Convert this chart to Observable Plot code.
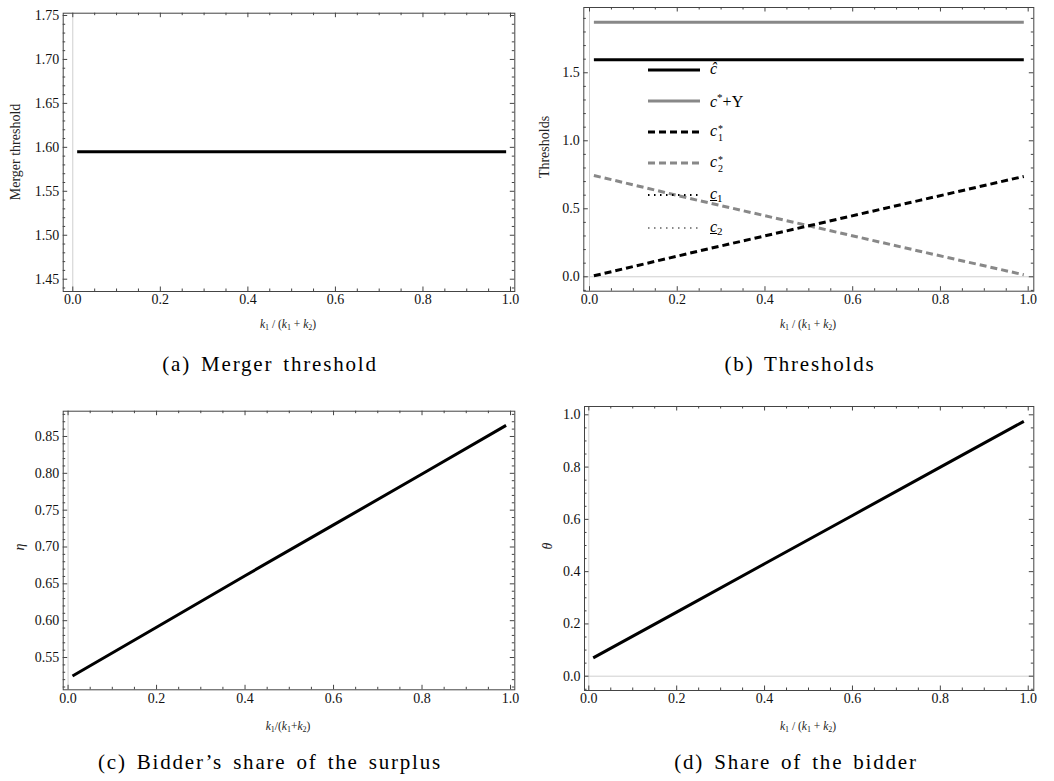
<!DOCTYPE html>
<html><head><meta charset="utf-8">
<script src="https://cdn.jsdelivr.net/npm/d3@7"></script>
<script src="https://cdn.jsdelivr.net/npm/@observablehq/plot@0.6"></script>
<style>
body{margin:0;background:#fff;}
#page{position:relative;width:1054px;height:781px;overflow:hidden;background:#fff;font-family:"Liberation Serif",serif;color:#000}
.panel{position:absolute}
.panel text{font-family:"Liberation Serif",serif !important;font-size:14px !important;fill:#111 !important}
.cap{position:absolute;font-size:21px;letter-spacing:1.8px;word-spacing:3px;white-space:nowrap;transform:translate(-50%,-50%);line-height:1}
.xl{position:absolute;font-size:11.5px;white-space:nowrap;transform:translate(-50%,-50%);color:#222;line-height:1}
.xl sub{font-size:8px;vertical-align:-2px;font-style:normal}
.yl{position:absolute;font-size:14px;white-space:nowrap;transform:translate(-50%,-50%) rotate(-90deg);color:#222;line-height:1}
.lg{position:absolute;font-size:16px;line-height:1;white-space:nowrap}
.lg svg{position:absolute;left:0;top:-3px}
.lg .t{position:absolute;left:62px;top:-9px}
.stk{display:inline-block;vertical-align:-5px;font-size:10px;text-align:left;font-style:normal;position:relative;width:7px;height:16px}
.stk .s{position:absolute;left:1px;top:-1px;line-height:1}
.stk .b{position:absolute;left:1px;top:8px;line-height:1}
.lg sub{font-size:11px;vertical-align:-3px}
.lg sup{font-size:11px;vertical-align:6px}
</style></head>
<body><div id="page"></div>
<script>
// ---- data ----
const ratioFlat = [0.01, 0.99];
const mergerThreshold = [1.595, 1.595];
const cHat = [1.595, 1.595];
const cStarPlusY = [1.872, 1.872];
const ratioDash = [0.01, 0.25, 0.5, 0.75, 0.99];
const c1Star = [0.007, 0.19, 0.375, 0.56, 0.738];
const c2Star = [0.745, 0.56, 0.375, 0.19, 0.015];
const ratioShare = [0.01, 0.2, 0.4, 0.6, 0.8, 0.99];
const eta = [0.525, 0.591, 0.661, 0.730, 0.799, 0.865];
const theta = [0.07, 0.245, 0.43, 0.615, 0.80, 0.975];

const xMajor = [0, 0.2, 0.4, 0.6, 0.8, 1.0];
const xMinor = [0.05,0.1,0.15,0.25,0.3,0.35,0.45,0.5,0.55,0.65,0.7,0.75,0.85,0.9,0.95];
const yMajorA = [1.45, 1.50, 1.55, 1.60, 1.65, 1.70, 1.75];
const yMajorB = [0.0, 0.5, 1.0, 1.5];
const yMajorC = [0.55, 0.60, 0.65, 0.70, 0.75, 0.80, 0.85];
const yMajorD = [0.0, 0.2, 0.4, 0.6, 0.8, 1.0];

const captions = ["(a) Merger threshold", "(b) Thresholds", "(c) Bidder\u2019s share of the surplus", "(d) Share of the bidder"];
const yLabels = ["Merger threshold", "Thresholds", "\u03b7", "\u03b8"];

const GRAY = "#888";
const page = document.getElementById("page");

function minorBetween(major, step, lo, hi) {
  const out = [];
  const n = Math.round((hi - lo) / step);
  for (let i = 0; i <= n; i++) {
    const v = +(lo + i * step).toFixed(6);
    if (!major.some(m => Math.abs(m - v) < 1e-9)) out.push(v);
  }
  return out;
}

function panel(o) {
  const iw = o.width - o.mL - o.mR, ih = o.height - o.mT - o.mB;
  const M = 4.5, m = 2.5, tc = "#444";
  const yMinor = minorBetween(o.yMajor, o.yStep, o.yDom[0] - o.yDom[0] % o.yStep - o.yStep, o.yDom[1])
    .filter(v => v > o.yDom[0] && v < o.yDom[1]);
  const xMin = xMinor.filter(v => v > o.xDom[0] && v < o.xDom[1]);
  const el = Plot.plot({
    width: o.width, height: o.height,
    marginLeft: o.mL, marginRight: o.mR, marginTop: o.mT, marginBottom: o.mB,
    x: {domain: o.xDom},
    y: {domain: o.yDom},
    style: {fontFamily: "Liberation Serif", fontSize: "14px", background: "transparent", color: "#111"},
    marks: [
      Plot.ruleX([0], {stroke: "#cfcfcf", strokeWidth: 1}),
      o.yZero ? Plot.ruleY([0], {stroke: "#cfcfcf", strokeWidth: 1}) : null,
      ...o.marks,
      Plot.frame({stroke: tc, strokeWidth: 1}),
      Plot.ruleX(xMajor, {insetTop: ih - M, stroke: tc}),
      Plot.ruleX(xMajor, {insetBottom: ih - M, stroke: tc}),
      Plot.ruleX(xMin, {insetTop: ih - m, stroke: tc}),
      Plot.ruleX(xMin, {insetBottom: ih - m, stroke: tc}),
      Plot.ruleY(o.yMajor, {insetRight: iw - M, stroke: tc}),
      Plot.ruleY(o.yMajor, {insetLeft: iw - M, stroke: tc}),
      Plot.ruleY(yMinor, {insetRight: iw - m, stroke: tc}),
      Plot.ruleY(yMinor, {insetLeft: iw - m, stroke: tc}),
      Plot.axisX({ticks: xMajor, tickSize: 0, tickPadding: 3, tickFormat: d3.format(".1f"), label: null, fontFamily: "Liberation Serif", fontSize: 14}),
      Plot.axisY({ticks: o.yMajor, tickSize: 0, tickPadding: 4, tickFormat: d3.format(o.yFmt), label: null, fontFamily: "Liberation Serif", fontSize: 14})
    ]
  });
  el.classList.add("panel");
  el.style.left = o.left + "px";
  el.style.top = o.top + "px";
  page.appendChild(el);
}

function lineMark(xs, ys, stroke, dash) {
  const d = xs.map((x, i) => ({x, y: ys[i]}));
  return Plot.line(d, {x: "x", y: "y", stroke, strokeWidth: 3, strokeDasharray: dash, strokeLinecap: "butt"});
}

// (a)
panel({left: 0, top: 0, width: 520, height: 345, mL: 62.7, mR: 5.7, mT: 12.7, mB: 54,
  xDom: [-0.0219, 1.0098], yDom: [1.436, 1.7526], yMajor: yMajorA, yStep: 0.01, yFmt: ".2f",
  marks: [lineMark(ratioFlat, mergerThreshold, "#000")]});

// (b)
panel({left: 520, top: 0, width: 534, height: 345, mL: 63.3, mR: 20.7, mT: 7, mB: 54.3,
  xDom: [-0.013, 1.0128], yDom: [-0.106, 1.98], yMajor: yMajorB, yStep: 0.1, yFmt: ".1f", yZero: true,
  marks: [
    lineMark(ratioFlat, cStarPlusY, GRAY),
    lineMark(ratioFlat, cHat, "#000"),
    lineMark(ratioDash, c2Star, GRAY, "7,4"),
    lineMark(ratioDash, c1Star, "#000", "7,4")
  ]});

// (c)
panel({left: 0, top: 380, width: 520, height: 345, mL: 62.7, mR: 5.7, mT: 30.7, mB: 35.7,
  xDom: [-0.011, 1.0097], yDom: [0.5062, 0.8843], yMajor: yMajorC, yStep: 0.01, yFmt: ".2f",
  marks: [lineMark(ratioShare, eta, "#000")]});

// (d)
panel({left: 520, top: 380, width: 534, height: 345, mL: 64, mR: 20.7, mT: 26, mB: 35,
  xDom: [-0.0098, 1.0127], yDom: [-0.0547, 1.0318], yMajor: yMajorD, yStep: 0.05, yFmt: ".1f", yZero: true,
  marks: [lineMark(ratioShare, theta, "#000")]});

// labels
function addDiv(cls, html, x, y) {
  const d = document.createElement("div");
  d.className = cls; d.innerHTML = html;
  d.style.left = x + "px"; d.style.top = y + "px";
  page.appendChild(d);
  return d;
}
const xlabSp = '<i>k</i><sub>1</sub> / (<i>k</i><sub>1</sub> + <i>k</i><sub>2</sub>)';
const xlabNs = '<i>k</i><sub>1</sub>/(<i>k</i><sub>1</sub>+<i>k</i><sub>2</sub>)';
addDiv("xl", xlabSp, 288, 325);
addDiv("xl", xlabSp, 808, 325);
addDiv("xl", xlabNs, 288, 727);
addDiv("xl", xlabSp, 808, 727);

addDiv("yl", yLabels[0], 16, 152);
addDiv("yl", yLabels[1], 545, 147);
addDiv("yl", "<i>" + yLabels[2] + "</i>", 20, 547);
addDiv("yl", "<i>" + yLabels[3] + "</i>", 548, 546);

addDiv("cap", captions[0], 270, 364);
addDiv("cap", captions[1], 800, 364);
addDiv("cap", captions[2], 270, 762);
addDiv("cap", captions[3], 796, 762);

// legend of (b)
const legend = [
  {html: '<i>\u0109</i>', stroke: "#000", dash: null, y: 70},
  {html: '<i>c</i><sup>*</sup>+Y', stroke: GRAY, dash: null, y: 100.7},
  {html: '<i>c</i><span class="stk"><span class="s">*</span><span class="b">1</span></span>', stroke: "#000", dash: "7,4", y: 132.3},
  {html: '<i>c</i><span class="stk"><span class="s">*</span><span class="b">2</span></span>', stroke: GRAY, dash: "7,4", y: 163.3},
  {html: '<i style="text-decoration:underline">c</i><sub>1</sub>', stroke: "#000", dash: "1.5,4.5", w: 2, y: 195},
  {html: '<i style="text-decoration:underline">c</i><sub>2</sub>', stroke: GRAY, dash: "1.5,4.5", w: 2, y: 227.7}
];
legend.forEach(e => {
  const d = addDiv("lg", "", 648, e.y);
  d.innerHTML = `<svg width="54" height="6"><line x1="0" x2="52" y1="3" y2="3" stroke="${e.stroke}" stroke-width="${e.w || 3}" ${e.dash ? `stroke-dasharray="${e.dash}"` : ""}/></svg><span class="t">${e.html}</span>`;
});
</script></body></html>
